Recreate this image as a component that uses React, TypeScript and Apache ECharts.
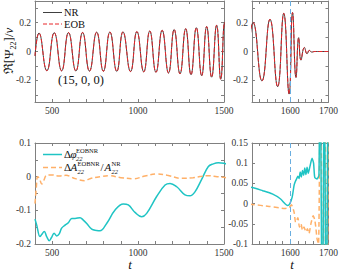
import React, { useEffect, useRef } from 'react';
import * as echarts from 'echarts';

// Waveform extrema (t, Re[Psi22]/nu)
const waveT = [400, 423, 469, 512, 555, 595, 638, 677, 717, 759, 798, 836, 876, 912, 956, 993, 1033, 1068, 1104, 1140, 1177, 1210, 1244, 1277, 1308, 1339, 1370, 1399, 1428, 1457, 1481, 1503, 1526, 1547, 1567, 1583, 1597, 1606, 1615, 1622, 1628, 1637, 1644, 1650, 1656, 1664, 1700];
const waveNR = [-0.03, 0.128, -0.133, 0.13, -0.134, 0.131, -0.135, 0.132, -0.136, 0.134, -0.137, 0.135, -0.138, 0.136, -0.139, 0.138, -0.141, 0.142, -0.144, 0.147, -0.149, 0.152, -0.155, 0.158, -0.161, 0.165, -0.168, 0.173, -0.178, 0.182, -0.192, 0.2, -0.204, 0.223, -0.244, 0.265, -0.295, 0.27, -0.18, 0.096, -0.06, 0.028, -0.016, 0.008, -0.004, 0, 0];
const waveEOB = [-0.03, 0.128, -0.133, 0.13, -0.134, 0.131, -0.135, 0.132, -0.136, 0.134, -0.137, 0.135, -0.138, 0.136, -0.139, 0.138, -0.141, 0.142, -0.144, 0.147, -0.149, 0.152, -0.155, 0.158, -0.161, 0.165, -0.168, 0.173, -0.178, 0.182, -0.192, 0.2, -0.204, 0.223, -0.244, 0.265, -0.295, 0.27, -0.178, 0.094, -0.058, 0.027, -0.015, 0.007, -0.004, 0, 0];

// Phase difference (cyan)
const phaseT = [400, 410, 429, 439, 454, 468, 483, 497, 511, 526, 541, 555, 575, 594, 614, 633, 662, 681, 701, 730, 759, 778, 817, 866, 914, 943, 982, 1021, 1050, 1108, 1157, 1186, 1225, 1273, 1302, 1331, 1370, 1409, 1438, 1467, 1500, 1528, 1553, 1574, 1587, 1593, 1599, 1605, 1610, 1613, 1617, 1620, 1623, 1626, 1629, 1632, 1635, 1638, 1641, 1644, 1647, 1651, 1657, 1661, 1664, 1670, 1675, 1678, 1684, 1689, 1694, 1699];
const phaseVals = [-0.126, -0.144, -0.178, -0.172, -0.163, -0.178, -0.19, -0.18, -0.168, -0.176, -0.17, -0.153, -0.144, -0.137, -0.124, -0.124, -0.122, -0.129, -0.139, -0.156, -0.16, -0.161, -0.139, -0.099, -0.081, -0.084, -0.106, -0.119, -0.109, -0.059, -0.025, -0.02, -0.03, -0.054, -0.057, -0.045, -0.008, 0.03, 0.038, 0.041, 0.04, 0.032, 0.024, 0.012, -0.001, -0.005, 0, 0.016, 0.045, 0.054, 0.062, 0.068, 0.062, 0.078, 0.066, 0.082, 0.07, 0.088, 0.072, 0.09, 0.075, 0.09, 0.112, 0.1, 0.065, 0.061, 0.07, 0.4, -0.4, 0.4, -0.4, 0.4];

// Relative amplitude difference (orange dashed)
const ampT = [400, 408, 415, 425, 440, 452, 468, 500, 540, 580, 620, 660, 690, 720, 778, 830, 900, 975, 1040, 1108, 1170, 1254, 1320, 1370, 1410, 1460, 1500, 1545, 1587, 1597, 1603, 1610, 1614, 1620, 1624, 1628, 1632, 1636, 1641, 1645, 1649, 1654, 1660, 1664, 1667, 1670, 1674, 1679, 1685, 1690, 1696, 1700];
const ampVals = [-0.08, -0.03, 0, -0.005, -0.022, -0.01, 0.004, 0.005, 0.002, 0.004, -0.003, -0.01, -0.012, -0.006, 0, 0.003, -0.003, -0.006, 0.002, 0.008, 0.004, -0.005, -0.003, 0.001, 0.003, 0, -0.002, -0.007, -0.012, -0.01, -0.003, -0.021, -0.046, -0.035, -0.058, -0.05, -0.066, -0.058, -0.07, -0.062, -0.074, -0.05, -0.03, -0.04, -0.06, -0.087, -0.1, 0.4, -0.4, 0.4, -0.4, 0.4];

// Axis labels / ticks
const xLabelsLeft = [500, 1000, 1500];
const xTicksLeft = [400, 500, 600, 700, 800, 900, 1000, 1100, 1200, 1300, 1400, 1500];
const xLabelsRight = [1600, 1700];
const xTicksRight = [1500, 1520, 1540, 1560, 1580, 1600, 1620, 1640, 1660, 1680, 1700];
const yLabelsTop = [-0.2, 0, 0.2];
const yTicksTop = [-0.3, -0.2, -0.1, 0, 0.1, 0.2, 0.3];
const yLabelsBL = [-0.2, -0.1, 0, 0.1];
const yTicksBL = [-0.2, -0.15, -0.1, -0.05, 0, 0.05, 0.1];
const yLabelsBR = [-0.1, -0.05, 0, 0.05, 0.1, 0.15];
const yTicksBR = [-0.1, -0.05, 0, 0.05, 0.1, 0.15];
const markT = 1600;

const SERIF = "'Liberation Serif', 'DejaVu Serif', serif";
const FRAME = '#808080';

function pairs(xs: number[], ys: number[]) {
  return xs.map((x, i) => [x, ys[i]]);
}

function xAxis(grid: number, min: number, max: number, labels: number[], ticks: number[], top: boolean) {
  return {
    type: 'value', gridIndex: grid, min, max, position: top ? 'top' : 'bottom',
    axisLine: { show: true, onZero: false, lineStyle: { color: FRAME, width: 1 } },
    axisTick: { show: true, inside: true, length: 3, customValues: ticks, lineStyle: { color: FRAME } },
    axisLabel: top ? { show: false } : {
      show: true, customValues: labels, margin: 4, color: '#333', fontSize: 9.5, fontFamily: SERIF,
      formatter: (v: number) => String(v),
    },
    splitLine: { show: false },
  };
}

function yAxis(grid: number, min: number, max: number, labels: number[], ticks: number[], right: boolean) {
  return {
    type: 'value', gridIndex: grid, min, max, position: right ? 'right' : 'left',
    axisLine: { show: true, onZero: false, lineStyle: { color: FRAME, width: 1 } },
    axisTick: { show: true, inside: true, length: 3, customValues: ticks, lineStyle: { color: FRAME } },
    axisLabel: right ? { show: false } : {
      show: true, customValues: labels, margin: 4, color: '#333', fontSize: 9.5, fontFamily: SERIF,
      formatter: (v: number) => String(v),
    },
    splitLine: { show: false },
  };
}

const markLine = {
  silent: true,
  symbol: ['none', 'none'],
  label: { show: false },
  lineStyle: { color: '#6aaee0', type: [5, 3], width: 1 },
  data: [{ xAxis: markT }],
};

export default function App() {
  const ref = useRef<HTMLDivElement>(null);
  useEffect(() => {
    const chart = echarts.init(ref.current!, null, { renderer: 'svg' });
    const nr = pairs(waveT, waveNR);
    const eob = pairs(waveT, waveEOB);
    const ph = pairs(phaseT, phaseVals);
    const am = pairs(ampT, ampVals);
    const txt = (x: number, y: number, text: string, size: number, opts: any = {}) => ({
      type: 'text', x, y, silent: true,
      style: { text, fontSize: size, fontFamily: SERIF, fill: '#111', verticalAlign: 'middle', align: 'left', ...opts },
    });
    chart.setOption({
      animation: false,
      backgroundColor: '#fff',
      grid: [
        { left: 35, top: 1, width: 189, height: 101 },
        { left: 252, top: 1, width: 80, height: 101 },
        { left: 35, top: 143, width: 189, height: 101 },
        { left: 252, top: 143, width: 80, height: 101 },
      ],
      xAxis: [
        xAxis(0, 400, 1500, xLabelsLeft, xTicksLeft, false),
        xAxis(1, 1500, 1700, xLabelsRight, xTicksRight, false),
        xAxis(2, 400, 1500, xLabelsLeft, xTicksLeft, false),
        xAxis(3, 1500, 1700, xLabelsRight, xTicksRight, false),
        xAxis(0, 400, 1500, xLabelsLeft, xTicksLeft, true),
        xAxis(1, 1500, 1700, xLabelsRight, xTicksRight, true),
        xAxis(2, 400, 1500, xLabelsLeft, xTicksLeft, true),
        xAxis(3, 1500, 1700, xLabelsRight, xTicksRight, true),
      ],
      yAxis: [
        yAxis(0, -0.35, 0.35, yLabelsTop, yTicksTop, false),
        yAxis(1, -0.35, 0.35, yLabelsTop, yTicksTop, false),
        yAxis(2, -0.2, 0.1, yLabelsBL, yTicksBL, false),
        yAxis(3, -0.1, 0.15, yLabelsBR, yTicksBR, false),
        yAxis(0, -0.35, 0.35, yLabelsTop, yTicksTop, true),
        yAxis(1, -0.35, 0.35, yLabelsTop, yTicksTop, true),
        yAxis(2, -0.2, 0.1, yLabelsBL, yTicksBL, true),
        yAxis(3, -0.1, 0.15, yLabelsBR, yTicksBR, true),
      ],
      series: [
        { type: 'line', name: 'NR', xAxisIndex: 0, yAxisIndex: 0, data: nr, smooth: true, symbol: 'none', lineStyle: { color: '#404040', width: 1 } },
        { type: 'line', name: 'EOB', xAxisIndex: 0, yAxisIndex: 0, data: eob, smooth: true, symbol: 'none', lineStyle: { color: '#e8262b', width: 1, type: [4, 2] } },
        { type: 'line', name: 'NR', xAxisIndex: 1, yAxisIndex: 1, data: nr, smooth: true, symbol: 'none', lineStyle: { color: '#404040', width: 1 } },
        { type: 'line', name: 'EOB', xAxisIndex: 1, yAxisIndex: 1, data: eob, smooth: true, symbol: 'none', lineStyle: { color: '#e8262b', width: 1, type: [4, 2] }, markLine },
        { type: 'line', name: 'dphi', xAxisIndex: 2, yAxisIndex: 2, data: ph, smooth: 0.4, symbol: 'none', lineStyle: { color: '#1fc4c4', width: 1.5 } },
        { type: 'line', name: 'dA', xAxisIndex: 2, yAxisIndex: 2, data: am, smooth: 0.4, symbol: 'none', lineStyle: { color: '#ffb068', width: 1.5, type: [5, 3] } },
        { type: 'line', name: 'dA', xAxisIndex: 3, yAxisIndex: 3, data: am, smooth: 0.2, symbol: 'none', lineStyle: { color: '#ffb068', width: 1.5, type: [5, 3] }, markLine },
        { type: 'line', name: 'dphi', xAxisIndex: 3, yAxisIndex: 3, data: ph, smooth: 0.2, symbol: 'none', lineStyle: { color: '#1fc4c4', width: 1.5 } },
      ],
      graphic: [
        // y-axis title
        {
          type: 'text', x: 8, y: 51, rotation: Math.PI / 2, silent: true,
          style: {
            text: '{m|ℜ[Ψ}{s|22}{m|]/}{i|ν}', align: 'center', verticalAlign: 'middle', fill: '#111',
            rich: {
              m: { fontSize: 13, fontFamily: SERIF, lineHeight: 18, fill: '#111' },
              s: { fontSize: 8, fontFamily: SERIF, lineHeight: 9, verticalAlign: 'bottom', fill: '#111' },
              i: { fontSize: 13, fontFamily: SERIF, fontStyle: 'italic', lineHeight: 18, fill: '#111' },
            },
          },
        },
        // annotation
        txt(81, 80, '(15, 0, 0)', 12.5, { align: 'center' }),
        // x-axis titles
        txt(130, 264, 't', 13, { align: 'center', fontStyle: 'italic' }),
        txt(292, 264, 't', 13, { align: 'center', fontStyle: 'italic' }),
        // top legend
        { type: 'line', silent: true, shape: { x1: 43, y1: 12.5, x2: 62, y2: 12.5 }, style: { stroke: '#404040', lineWidth: 1 } },
        txt(64, 12.5, 'NR', 10.5),
        { type: 'line', silent: true, shape: { x1: 43, y1: 24, x2: 62, y2: 24 }, style: { stroke: '#e8262b', lineWidth: 1, lineDash: [4, 2] } },
        txt(64, 24, 'EOB', 10.5),
        // bottom legend
        { type: 'line', silent: true, shape: { x1: 43, y1: 154.5, x2: 62, y2: 154.5 }, style: { stroke: '#1fc4c4', lineWidth: 1.5 } },
        txt(64, 154, 'Δ', 11),
        txt(70.5, 154, 'φ', 11, { fontStyle: 'italic' }),
        txt(76, 150, 'EOBNR', 6.5),
        txt(76, 158, '22', 6.5, { fontStyle: 'italic' }),
        { type: 'line', silent: true, shape: { x1: 43, y1: 167.5, x2: 62, y2: 167.5 }, style: { stroke: '#ffb068', lineWidth: 1.5, lineDash: [5, 3] } },
        txt(64, 166.5, 'Δ', 11),
        txt(70.5, 166.5, 'A', 11, { fontStyle: 'italic' }),
        txt(77.5, 163.5, 'EOBNR', 6.5),
        txt(77.5, 171, '22', 6.5, { fontStyle: 'italic' }),
        txt(100.5, 166.5, '/', 11),
        txt(104.5, 166.5, 'A', 11, { fontStyle: 'italic' }),
        txt(111.5, 163.5, 'NR', 6.5),
        txt(111.5, 171, '22', 6.5, { fontStyle: 'italic' }),
      ],
    });
    return () => chart.dispose();
  }, []);
  return <div ref={ref} style={{ position: 'absolute', left: 0, top: 0, width: 341, height: 271 }} />;
}
